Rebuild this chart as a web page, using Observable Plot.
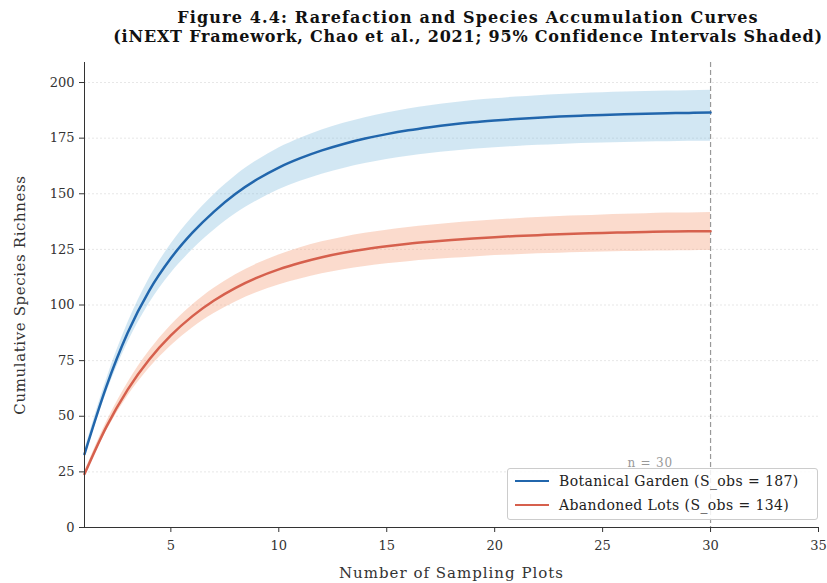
<!DOCTYPE html>
<html>
<head>
<meta charset="utf-8">
<script src="https://cdn.jsdelivr.net/npm/d3@7"></script>
<script src="https://cdn.jsdelivr.net/npm/@observablehq/plot@0.6"></script>
<style>
  body { margin: 0; background: #fff; font-family: "DejaVu Serif", serif; }
  #wrap { position: relative; width: 827px; height: 583px; overflow: hidden; }
  #title { position: relative; height: 50px; font-weight: bold; font-size: 16px; color: #111; }
  #title div { position: absolute; left: 468px; transform: translateX(-50%); white-space: nowrap; }
  #t1 { top: 8px; letter-spacing: 1.15px; }
  #t2 { top: 27px; letter-spacing: 0.8px; }
  #legend { position: absolute; left: 507px; top: 468px; width: 311px; height: 52px; box-sizing: border-box;
            background: rgba(255,255,255,0.85); border: 1px solid #ccc; border-radius: 3px; font-size: 14px; letter-spacing: 0.4px; color: #222; }
  .item { position: absolute; left: 7px; display: flex; align-items: center; white-space: nowrap; }
  .sw { width: 34px; height: 0; border-top: 2.5px solid; margin-right: 10px; }
  svg g[aria-label="tick label"] text, svg g[aria-label="text"] text { letter-spacing: 0.8px; }
</style>
</head>
<body>
<div id="wrap">
  <div id="title"><div id="t1">Figure 4.4: Rarefaction and Species Accumulation Curves</div><div id="t2">(iNEXT Framework, Chao et al., 2021; 95% Confidence Intervals Shaded)</div></div>
  <div id="chart"></div>
  <div id="legend"></div>
</div>
<script>
const plots = [1,2,3,4,5,6,7,8,9,10,11,12,13,14,15,16,17,18,19,20,21,22,23,24,25,26,27,28,29,30];

const gardenMean  = [33,63,87.5,106.5,121,132.5,142,150,156.5,161.8,166,169.5,172.4,174.8,176.8,178.5,179.9,181.1,182.1,182.9,183.6,184.2,184.7,185.1,185.45,185.75,186,186.2,186.35,186.5];
const gardenLower = [31.5,60,83,100.7,114.2,124.8,133.6,141,146.9,151.8,155.6,158.8,161.4,163.6,165.4,166.9,168.1,169.1,170,170.7,171.3,171.8,172.2,172.6,172.85,173.05,173.3,173.4,173.55,173.6];
const gardenUpper = [34.5,66,91.8,111.9,127.3,139.5,149.6,158.1,165,170.6,175,178.7,181.7,184.2,186.3,188.1,189.6,190.8,191.9,192.7,193.5,194.1,194.6,195.1,195.45,195.75,196,196.2,196.35,196.5];

const lotsMean  = [24,45,62,75.5,86.3,95,102,107.7,112.3,116,119,121.5,123.5,125.1,126.4,127.5,128.4,129.2,129.9,130.5,131,131.4,131.8,132.1,132.4,132.6,132.8,133,133.1,133.2];
const lotsLower = [23,43,59,71.6,81.6,89.7,96.2,101.4,105.6,109,111.7,114,115.8,117.3,118.5,119.5,120.3,121,121.6,122.2,122.6,123,123.3,123.6,123.8,124,124.2,124.3,124.4,124.5];
const lotsUpper = [25,47,65,79.3,90.8,100,107.5,113.6,118.5,122.5,125.7,128.4,130.5,132.2,133.6,134.8,135.8,136.7,137.5,138.2,138.8,139.3,139.8,140.1,140.5,140.8,141,141.3,141.4,141.6];

const seriesNames = ["Botanical Garden (S_obs = 187)", "Abandoned Lots (S_obs = 134)"];
const lineColors = ["#2166ac", "#d6604d"];
const bandColors = ["#6baed6", "#f4a582"];

const xTicks = [5,10,15,20,25,30,35];
const yTicks = [0,25,50,75,100,125,150,175,200];
const observedN = 30;
const nLabel = "n = 30";
const xLabel = "Number of Sampling Plots";
const yLabel = "Cumulative Species Richness";

const rows = [];
plots.forEach((p, i) => {
  rows.push({s: seriesNames[0], x: p, y: gardenMean[i], lo: gardenLower[i], hi: gardenUpper[i]});
  rows.push({s: seriesNames[1], x: p, y: lotsMean[i], lo: lotsLower[i], hi: lotsUpper[i]});
});

const chart = Plot.plot({
  width: 827,
  height: 533,
  marginTop: 12,
  marginBottom: 56,
  marginLeft: 84,
  marginRight: 9,
  style: {fontFamily: "DejaVu Serif", fontSize: "13px", color: "#333", background: "#fff"},
  x: {domain: [1, 35]},
  y: {domain: [0, 209]},
  color: {domain: seriesNames, range: lineColors},
  marks: [
    Plot.gridY(yTicks, {stroke: "#bbb", strokeOpacity: 0.35, strokeDasharray: "2,2"}),
    Plot.areaY(rows.filter(d => d.s === seriesNames[0]), {x: "x", y1: "lo", y2: "hi", fill: bandColors[0], fillOpacity: 0.3, curve: "monotone-x"}),
    Plot.areaY(rows.filter(d => d.s === seriesNames[1]), {x: "x", y1: "lo", y2: "hi", fill: bandColors[1], fillOpacity: 0.4, curve: "monotone-x"}),
    Plot.ruleX([observedN], {stroke: "#999", strokeDasharray: "5,3", strokeWidth: 1.2}),
    Plot.line(rows, {x: "x", y: "y", stroke: "s", strokeWidth: 2.5, curve: "monotone-x"}),
    Plot.text([nLabel], {x: [27.2], y: [29], text: d => d, fill: "#999", fontSize: 12}),
    Plot.axisX(xTicks, {tickSize: 5, tickPadding: 8, fontSize: 13, label: null}),
    Plot.axisY(yTicks, {tickSize: 5, tickPadding: 5, fontSize: 13, label: null}),
    Plot.text([xLabel], {frameAnchor: "bottom", dy: 50, text: d => d, fontSize: 15, fill: "#333"}),
    Plot.text([yLabel], {frameAnchor: "left", dx: -64, rotate: -90, textAnchor: "middle", text: d => d, fontSize: 15, fill: "#333"}),
    Plot.ruleY([0], {stroke: "#333"}),
    Plot.ruleX([1], {stroke: "#333"})
  ]
});
document.getElementById("chart").appendChild(chart);

chart.querySelectorAll("g[aria-label='text'] text").forEach(t => {
  if (t.textContent === xLabel) t.style.letterSpacing = "1px";
  if (t.textContent === yLabel) t.style.letterSpacing = "0.6px";
});

const legend = document.getElementById("legend");
seriesNames.forEach((name, i) => {
  const it = document.createElement("div");
  it.className = "item";
  it.style.top = (i === 0 ? 4 : 28) + "px";
  const sw = document.createElement("div");
  sw.className = "sw";
  sw.style.borderTopColor = lineColors[i];
  const t = document.createElement("span");
  t.textContent = name;
  it.appendChild(sw); it.appendChild(t);
  legend.appendChild(it);
});
</script>
</body>
</html>
